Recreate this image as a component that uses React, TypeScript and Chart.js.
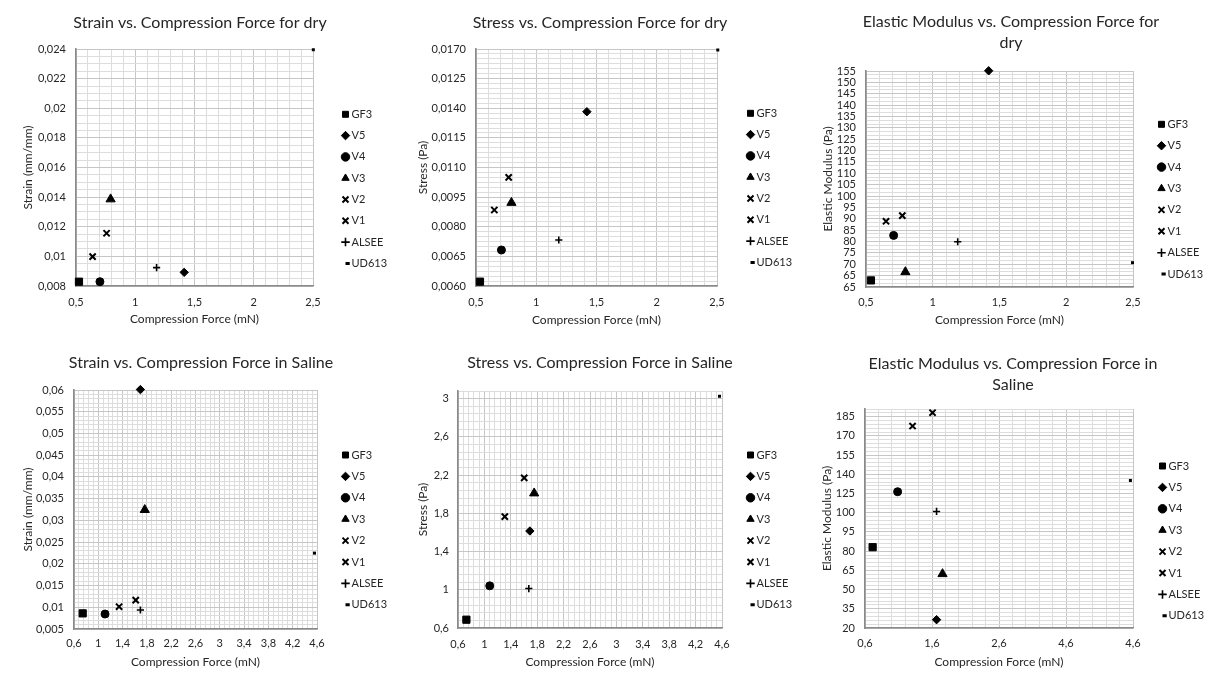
import React, { useEffect, useRef } from 'react';
import { Chart, registerables } from 'chart.js';

Chart.register(...registerables);

// ---------------- data ----------------
const SERIES = ['GF3', 'V5', 'V4', 'V3', 'V2', 'V1', 'ALSEE', 'UD613'];

// Dry
const strainDryForce = [0.525, 1.413, 0.702, 0.792, 0.64, 0.758, 1.18, 2.49];
const strainDryStrain = [0.00829, 0.00892, 0.00829, 0.01386, 0.00998, 0.01156, 0.00924, 0.02395];
const stressDryForce = [0.533, 1.42, 0.711, 0.794, 0.652, 0.771, 1.187, 2.494];
const stressDryStress = [0.00522, 0.013825, 0.006822, 0.009218, 0.008847, 0.0105, 0.007328, 0.01695];
const modulusDryForce = [0.537, 1.419, 0.707, 0.795, 0.65, 0.772, 1.187, 2.485];
const modulusDryModulus = [62.9, 155.1, 82.7, 66.6, 88.9, 91.4, 79.9, 70.7];

// Saline
const strainSalineForce = [0.743, 1.693, 1.111, 1.765, 1.342, 1.616, 1.693, 4.534];
const strainSalineStrain = [0.0086, 0.0601, 0.00845, 0.03242, 0.01013, 0.01166, 0.00937, 0.02246];
const stressSalineForce = [0.727, 1.689, 1.081, 1.754, 1.309, 1.603, 1.673, 4.539];
const stressSalineStress = [0.687, 1.615, 1.041, 2.01, 1.765, 2.171, 1.013, 3.025];
const modulusSalineForce = [0.714, 1.668, 1.087, 1.757, 1.31, 1.608, 1.668, 4.539];
const modulusSalineModulus = [83.1, 26.5, 126.4, 62.2, 177.7, 188.1, 111.0, 135.2];

// tick labels
const forceDryLabels = ['0,5', '1', '1,5', '2', '2,5'];
const forceSalineLabels = ['0,6', '1', '1,4', '1,8', '2,2', '2,6', '3', '3,4', '3,8', '4,2', '4,6'];
const forceModSalineLabels = ['0,6', '1,6', '2,6', '4,6', '4,6'];
const strainDryLabels = ['0,008', '0,01', '0,012', '0,014', '0,016', '0,018', '0,02', '0,022', '0,024'];
const stressDryLabels = ['0,0060', '0,0065', '0,0080', '0,0095', '0,0110', '0,0115', '0,0140', '0,0125', '0,0170'];
const modulusDryLabels = ['65', '65', '70', '75', '80', '85', '90', '95', '100', '105', '110', '115', '120', '125', '130', '135', '140', '145', '150', '155'];
const strainSalineLabels = ['0,005', '0,01', '0,015', '0,02', '0,025', '0,03', '0,035', '0,04', '0,045', '0,05', '0,055', '0,06'];
const stressSalineLabels = ['0,6', '1', '1,4', '1,8', '2,2', '2,6', '3'];
const modulusSalineLabels = ['20', '35', '50', '65', '80', '95', '100', '125', '140', '155', '170', '185'];

// ---------------- styles ----------------
const POINT_STYLES = ['rect', 'rectRot', 'circle', 'triangle', 'crossRot', 'crossRot', 'cross', 'dash'];
const POINT_RADII = [5.1, 4.2, 4, 5.3, 4.4, 4.4, 3.6, 3];
const POINT_BORDERS = [1, 1, 1, 1, 2, 2, 1.6, 3];

const FONT = 'Lato, "Open Sans", "DejaVu Sans", sans-serif';
const TITLE_SIZE = 16;
const TITLE_LH = 1.3;
const TICK_SIZE = 11;
const AXIS_TITLE_SIZE = 12;
const LEGEND_SIZE = 11;
const TEXT_COLOR = '#262626';
const GRID_MINOR = '#dddddd';
const GRID_MAJOR = '#c6c6c6';
const AXIS_LINE = '#8a8a8a';

interface AxisSpec {
  min: number;
  max: number;
  major: number;
  sub: number;
  labels: string[];
}

interface Panel {
  id: string;
  cx: number; cy: number; w: number; h: number;
  L: number; R: number; T: number; B: number;
  title: string | string[];
  titleX: number; titleY: number;
  yTitle: string; yTitleX: number;
  xTickY: number; xTitleY: number;
  legX: number; legY: number; legGap: number;
  yTickGap: number;
  yTickSize?: number;
  x: AxisSpec; y: AxisSpec;
  xs: number[]; ys: number[];
}

function makeTicks(a: AxisSpec) {
  const step = a.major / a.sub;
  const n = Math.round((a.max - a.min) / step);
  const out: any[] = [];
  for (let i = 0; i <= n; i++) {
    const isMajor = i % a.sub === 0;
    const lbl = isMajor ? a.labels[i / a.sub] : undefined;
    out.push({ value: a.min + i * step, major: isMajor && lbl !== undefined, lbl: lbl ?? '' });
  }
  return out;
}

function axisOptions(a: AxisSpec, extra: any) {
  return {
    type: 'linear',
    min: a.min,
    max: a.max,
    afterBuildTicks: (scale: any) => {
      scale.ticks = makeTicks(a);
    },
    grid: {
      drawTicks: false,
      color: (ctx: any) => (ctx.tick && ctx.tick.major ? GRID_MAJOR : GRID_MINOR),
      lineWidth: 1,
    },
    border: { display: true, color: AXIS_LINE, width: 1.6 },
    ...extra,
  };
}

function buildConfig(p: Panel): any {
  const tLh = TITLE_SIZE * TITLE_LH;
  const lines = Array.isArray(p.title) ? p.title.length : 1;
  const tPadTop = p.titleY - p.cy - tLh / 2;
  const tPadBottom = p.T - p.cy - tPadTop - lines * tLh;
  const aLh = AXIS_TITLE_SIZE * 1.2;
  const kLh = TICK_SIZE * 1.2;
  const legPad = p.legGap - LEGEND_SIZE;
  const yTickSize = p.yTickSize ?? TICK_SIZE;

  const placer = {
    id: 'placer-' + p.id,
    afterLayout(chart: any) {
      const t = chart.titleBlock;
      if (t) {
        t.left = p.titleX - p.cx - 300;
        t.right = p.titleX - p.cx + 300;
        t.width = 600;
      }
      const lg = chart.legend;
      if (lg) {
        lg.left = p.legX - p.cx - legPad - 0.5;
        lg.right = lg.left + 160;
        lg.width = 160;
        lg.top = p.legY - p.cy - LEGEND_SIZE / 2 - legPad;
        lg.bottom = lg.top + 280;
        lg.height = 280;
      }
    },
  };

  return {
    type: 'scatter',
    data: {
      datasets: SERIES.map((name, i) => ({
        label: name,
        data: [{ x: p.xs[i], y: p.ys[i] }],
        pointStyle: POINT_STYLES[i],
        pointRadius: POINT_RADII[i],
        pointBorderWidth: POINT_BORDERS[i],
        borderWidth: POINT_BORDERS[i],
        backgroundColor: '#000',
        borderColor: '#000',
        pointBackgroundColor: '#000',
        pointBorderColor: '#000',
        clip: false,
      })),
    },
    options: {
      responsive: false,
      animation: false,
      devicePixelRatio: 1,
      events: [],
      layout: { padding: { left: 0, top: 0, bottom: 0, right: p.cx + p.w - p.R - 1 } },
      plugins: {
        title: {
          display: true,
          text: p.title,
          color: TEXT_COLOR,
          font: { family: FONT, size: TITLE_SIZE, weight: 'normal', lineHeight: TITLE_LH },
          padding: { top: tPadTop, bottom: tPadBottom },
        },
        legend: {
          display: true,
          position: 'right',
          align: 'start',
          maxWidth: 1,
          labels: {
            usePointStyle: true,
            boxWidth: 1,
            boxHeight: 6,
            padding: legPad,
            color: TEXT_COLOR,
            font: { family: FONT, size: LEGEND_SIZE },
          },
        },
        tooltip: { enabled: false },
      },
      scales: {
        x: axisOptions(p.x, {
          position: 'bottom',
          afterFit: (scale: any) => {
            scale.height = p.cy + p.h - p.B;
          },
          ticks: {
            autoSkip: false,
            maxRotation: 0,
            padding: p.xTickY - p.B - kLh / 2,
            color: TEXT_COLOR,
            font: { family: FONT, size: TICK_SIZE },
            callback: (_v: any, i: number, ticks: any[]) => ticks[i].lbl,
          },
          title: {
            display: true,
            text: 'Compression Force (mN)',
            color: TEXT_COLOR,
            font: { family: FONT, size: AXIS_TITLE_SIZE },
            padding: { top: 0, bottom: p.cy + p.h - p.xTitleY - aLh / 2 },
          },
        }),
        y: axisOptions(p.y, {
          position: 'left',
          afterFit: (scale: any) => {
            scale.width = p.L - p.cx;
          },
          ticks: {
            autoSkip: false,
            padding: p.yTickGap,
            color: TEXT_COLOR,
            font: { family: FONT, size: yTickSize },
            callback: (_v: any, i: number, ticks: any[]) => ticks[i].lbl,
          },
          title: {
            display: true,
            text: p.yTitle,
            color: TEXT_COLOR,
            font: { family: FONT, size: AXIS_TITLE_SIZE },
            padding: { top: p.yTitleX - p.cx - aLh / 2, bottom: 0 },
          },
        }),
      },
    },
    plugins: [placer],
  };
}

const dryForceAxis: AxisSpec = { min: 0.5, max: 2.5, major: 0.5, sub: 5, labels: forceDryLabels };
const salineForceAxis: AxisSpec = { min: 0.6, max: 4.6, major: 0.4, sub: 5, labels: forceSalineLabels };

const PANELS: Panel[] = [
  {
    id: 'strain-dry', cx: 0, cy: 0, w: 400, h: 330,
    L: 76, R: 313, T: 49, B: 286,
    title: 'Strain vs. Compression Force for dry', titleX: 200, titleY: 23,
    yTitle: 'Strain (mm/mm)', yTitleX: 28,
    xTickY: 302, xTitleY: 319,
    legX: 345.5, legY: 114.3, legGap: 21.3, yTickGap: 10,
    x: dryForceAxis,
    y: { min: 0.008, max: 0.024, major: 0.002, sub: 4, labels: strainDryLabels },
    xs: strainDryForce, ys: strainDryStrain,
  },
  {
    id: 'stress-dry', cx: 400, cy: 0, w: 405, h: 330,
    L: 476, R: 717, T: 49, B: 286,
    title: 'Stress vs. Compression Force for dry', titleX: 600, titleY: 23,
    yTitle: 'Stress (Pa)', yTitleX: 423,
    xTickY: 302, xTitleY: 320,
    legX: 750.5, legY: 113.3, legGap: 21.3, yTickGap: 10,
    x: dryForceAxis,
    y: { min: 0.005, max: 0.017, major: 0.0015, sub: 6, labels: stressDryLabels },
    xs: stressDryForce, ys: stressDryStress,
  },
  {
    id: 'modulus-dry', cx: 805, cy: 0, w: 405, h: 330,
    L: 866, R: 1133, T: 71, B: 287,
    title: ['Elastic Modulus vs. Compression Force for', 'dry'], titleX: 1011, titleY: 22.3,
    yTitle: 'Elastic Modulus (Pa)', yTitleX: 828,
    xTickY: 302, xTitleY: 320,
    legX: 1161.5, legY: 124.3, legGap: 21.4, yTickGap: 10, yTickSize: 11,
    x: dryForceAxis,
    y: { min: 60, max: 155, major: 5, sub: 3, labels: modulusDryLabels },
    xs: modulusDryForce, ys: modulusDryModulus,
  },
  {
    id: 'strain-saline', cx: 0, cy: 330, w: 400, h: 345,
    L: 74, R: 317, T: 390, B: 629,
    title: 'Strain vs. Compression Force in Saline', titleX: 201, titleY: 363.3,
    yTitle: 'Strain (mm/mm)', yTitleX: 28,
    xTickY: 643.3, xTitleY: 662.3,
    legX: 345.5, legY: 455, legGap: 21.4, yTickGap: 10,
    x: salineForceAxis,
    y: { min: 0.005, max: 0.06, major: 0.005, sub: 5, labels: strainSalineLabels },
    xs: strainSalineForce, ys: strainSalineStrain,
  },
  {
    id: 'stress-saline', cx: 400, cy: 330, w: 405, h: 345,
    L: 458, R: 722, T: 391, B: 628,
    title: 'Stress vs. Compression Force in Saline', titleX: 600, titleY: 363.3,
    yTitle: 'Stress (Pa)', yTitleX: 422.7,
    xTickY: 644.3, xTitleY: 662.3,
    legX: 750.5, legY: 455, legGap: 21.4, yTickGap: 9,
    x: salineForceAxis,
    y: { min: 0.6, max: 3.08, major: 0.4, sub: 5, labels: stressSalineLabels },
    xs: stressSalineForce, ys: stressSalineStress,
  },
  {
    id: 'modulus-saline', cx: 805, cy: 330, w: 405, h: 345,
    L: 865, R: 1133, T: 409, B: 628,
    title: ['Elastic Modulus vs. Compression Force in', 'Saline'], titleX: 1013, titleY: 364.3,
    yTitle: 'Elastic Modulus (Pa)', yTitleX: 826.7,
    xTickY: 643.3, xTitleY: 662.3,
    legX: 1162.5, legY: 466, legGap: 21.4, yTickGap: 10,
    x: { min: 0.6, max: 4.6, major: 1, sub: 5, labels: forceModSalineLabels },
    y: { min: 20, max: 191, major: 15, sub: 5, labels: modulusSalineLabels },
    xs: modulusSalineForce, ys: modulusSalineModulus,
  },
];

function ChartPanel({ p }: { p: Panel }) {
  const ref = useRef<HTMLCanvasElement>(null);
  useEffect(() => {
    if (!ref.current) return;
    const chart = new Chart(ref.current, buildConfig(p));
    return () => chart.destroy();
  }, [p]);
  return (
    <canvas
      ref={ref}
      width={p.w}
      height={p.h}
      style={{ position: 'absolute', left: p.cx, top: p.cy, width: p.w, height: p.h }}
    />
  );
}

export default function App() {
  return (
    <div style={{ position: 'absolute', left: 0, top: 0, width: 1210, height: 675, background: '#fff', overflow: 'hidden' }}>
      {PANELS.map((p) => (
        <ChartPanel key={p.id} p={p} />
      ))}
    </div>
  );
}
